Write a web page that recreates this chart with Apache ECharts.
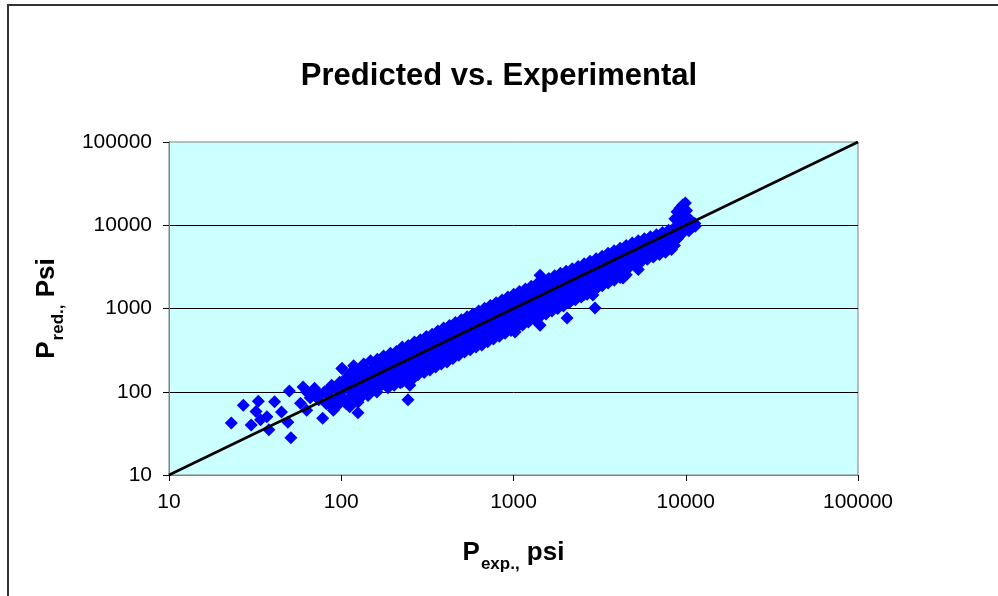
<!DOCTYPE html>
<html>
<head>
<meta charset="utf-8">
<script src="https://cdn.jsdelivr.net/npm/echarts/dist/echarts.min.js"></script>
<style>
  html, body { margin: 0; padding: 0; background: #fff; }
  #chart { width: 998px; height: 596px; }
</style>
</head>
<body>
<div id="chart"></div>
<script>
// Measured vs. predicted pressure, psi: [P_exp, P_pred]
const samples = [
  [23,42],[27,69],[30,40],[33,77],[32,58],[34,46],[37,50],[38,35],[41,76],[45,57],
  [49,43],[51,28],[50,102],[58,73],[60,114],[63,99],[72,97],[63,60],[75,91],[78,48],
  [86,111],[89,65],[101,84],[101,190],[105,127],[112,66],[117,105],[123,80],[125,56],
  [66,85],[70,110],[74,80],[80,100],[82,72],[85,90],[88,120],[92,80],[94,105],[96,70],
  [98,130],[90,60],
  [101,190],[108,150],[104,118],[99,96],[107,72],
  [112,165],[110,128],[114,102],[111,84],
  [118,205],[116,138],[120,112],[117,91],
  [124,172],[122,128],[126,98],[125,75],
  [130,150],[128,112],[132,88],[129,178],
  [135,215],[137,158],[134,121],[138,100],
  [142,176],[140,143],[144,108],[143,90],
  [148,236],[150,168],[147,128],[151,104],
  [155,195],[156,152],[153,118],[157,128],
  [162,245],[160,186],[163,138],[165,112],[161,99],
  [170,210],[168,162],[171,126],[172,140],
  [176,268],[178,193],[175,148],[179,122],
  [185,228],[183,172],[186,138],[187,112],
  [193,290],[191,215],[194,162],[195,133],
  [200,248],[199,188],[202,148],[203,120],
  [209,305],[207,222],[211,172],[210,142],
  [218,265],[216,202],[219,156],[220,128],
  [226,345],[224,242],[228,182],[225,131],
  [236,292],[235,218],[237,168],[238,148],
  [245,360],[243,262],[247,193],[246,152],[244,80],
  [250,120],[252,210],
  [256,305],[255,232],[257,178],[258,140],
  [266,395],[265,282],[268,208],[267,165],
  [277,335],[276,252],[278,192],[279,160],
  [288,420],[286,302],[289,228],[290,178],
  [300,365],[298,272],[302,208],[303,170],
  [312,460],[311,332],[314,248],[313,200],
  [324,395],[323,298],[326,228],[327,182],
  [337,490],[335,358],[338,268],[339,210],
  [350,425],[349,322],[352,243],[353,198],
  [364,535],[362,388],[366,288],[365,225],
  [379,465],[377,348],[380,262],[381,215],
  [393,585],[391,424],[395,312],[396,245],
  [409,505],[408,378],[411,282],
  [411,228],
  [425,625],[423,452],[427,338],[426,265],
  [442,545],[441,408],[444,302],[445,250],
  [460,680],[458,492],[462,362],[461,285],
  [479,595],[477,442],[480,332],[481,275],
  [498,735],[496,532],[499,392],[500,305],
  [517,640],[516,482],[519,362],[520,300],
  [538,795],[536,572],[539,422],[540,335],
  [559,690],[557,522],[560,392],[561,320],
  [581,860],[579,622],[582,462],[583,358],
  [604,750],[602,562],[605,422],[606,345],
  [628,930],[626,672],[629,502],[630,390],
  [653,810],[651,602],[654,452],[655,365],
  [679,1010],[677,732],[680,542],[681,420],
  [706,875],[704,652],[707,492],[708,400],
  [734,1085],[732,792],[735,582],[736,455],
  [763,950],[761,712],[764,532],[765,430],
  [793,1175],[791,852],[794,632],[795,495],
  [825,1025],[823,772],[826,572],[827,465],
  [858,1265],[856,922],[859,682],[860,535],
  [892,1110],[890,832],[893,622],[894,505],
  [928,1370],[926,992],[929,742],[930,580],
  [965,1195],[963,902],[966,672],[967,545],
  [1003,1480],[1000,1072],[1005,802],[1006,620],
  [1021,522],
  [1043,1300],[1042,972],[1045,722],[1046,590],
  [1083,1600],[1081,1152],[1085,862],[1086,665],
  [1128,1395],[1126,1042],[1130,782],[1131,635],
  [1173,1720],[1171,1242],[1175,932],[1176,725],
  [1218,1505],[1217,1122],[1220,842],[1221,690],
  [1268,1850],[1266,1342],[1270,1002],[1271,775],
  [1318,1625],[1317,1212],[1320,912],[1321,745],
  [1373,2000],[1371,1452],[1375,1082],[1376,835],
  [1426,631],[1426,2500],
  [1428,1760],[1427,1312],[1430,982],[1431,800],
  [1483,2150],[1481,1552],[1485,1162],[1486,895],
  [1543,1890],[1542,1412],[1545,1052],[1546,860],
  [1603,2300],[1601,1672],[1605,1252],[1606,965],
  [1668,2030],[1667,1522],[1670,1142],[1671,930],
  [1733,2480],[1731,1802],[1735,1342],[1736,1035],
  [1803,2190],[1802,1642],[1805,1232],[1806,1000],
  [1873,2650],[1871,1932],[1875,1442],[1876,1105],
  [1948,2360],[1947,1762],[1950,1322],[1951,1075],
  [2046,769],
  [2023,2800],[2021,2062],[2025,1542],[2026,1185],
  [2103,2520],[2102,1902],[2105,1442],[2106,1175],
  [2193,3000],[2191,2202],[2195,1652],[2196,1285],
  [2283,2720],[2282,2052],[2285,1562],[2286,1270],
  [2373,3200],[2371,2352],[2375,1782],[2376,1385],
  [2473,2920],[2472,2202],[2475,1682],[2476,1370],
  [2573,3450],[2571,2552],[2575,1922],[2576,1485],
  [2673,3170],[2672,2402],[2675,1822],[2676,1480],
  [2783,3700],[2781,2752],[2785,2082],[2786,1605],
  [2893,1452],
  [2903,3420],[2902,2602],[2905,1982],[2906,1610],
  [2972,1014],
  [3020,3950],[3018,2980],[3022,2250],[3024,1730],
  [3140,3700],[3142,2800],[3138,2130],
  [3270,4250],[3268,3200],[3272,2420],[3274,1870],
  [3400,4000],[3402,3020],[3398,2300],
  [3540,4600],[3538,3450],[3542,2620],[3544,2020],
  [3690,4300],[3692,3250],[3688,2480],
  [3840,4950],[3838,3700],[3842,2830],[3844,2180],
  [4000,4650],[4002,3500],[3998,2670],
  [4160,5300],[4158,4000],[4162,3050],[4164,2350],
  [4325,2320],
  [4330,5000],[4332,3780],[4328,2880],
  [4510,5700],[4508,4300],[4512,3300],[4514,2550],
  [4700,5400],[4702,4080],[4698,3120],
  [4890,6100],[4888,4650],[4892,3550],
  [5090,5800],[5092,4400],[5088,3380],
  [5300,6500],[5298,5000],[5302,3850],[5304,2950],
  [5520,6200],[5522,4750],[5518,3650],
  [5750,6900],[5748,5300],[5752,4100],
  [5990,6600],[5992,5050],[5988,3900],
  [6230,7300],[6228,5650],[6232,4350],
  [6490,7000],[6492,5400],[6488,4150],
  [6760,7700],[6758,6000],[6762,4600],
  [7040,7400],[7042,5750],[7038,4450],
  [7330,8200],[7328,6400],[7332,4950],
  [7630,7800],[7632,6100],[7628,4750],
  [7950,8700],[7948,6800],[7952,5300],
  [8270,8300],[8272,6500],[8268,5100],
  [8600,9300],[8602,7200],[8598,5700],[8650,12000],
  [8950,8800],[8952,6900],[8900,14500],
  [9300,9800],[9302,7600],[9250,16000],[9350,12500],
  [9680,10500],[9682,8300],[9700,13500],[9600,17500],
  [10000,11000],[10020,9000],[9950,18500],[10100,15000],
  [10400,10200],[10420,8600],[10450,12000],
  [10800,11200],[10820,9300],
  [11300,10500],[11350,9700]
];

// Perfect-agreement line endpoints (P_pred = P_exp)
const identityLine = [[10, 10], [100000, 100000]];

// Range shared by both log axes
const axisMin = 10;
const axisMax = 100000;

const titleText = 'Predicted vs. Experimental';
const xName = '{a|P}{b|exp.,}{a| psi}';
const yName = '{a|P}{b|red.,}{a| Psi}';

const FONT = '"Liberation Sans", Arial, sans-serif';

const nameRich = {
  a: { fontFamily: FONT, fontSize: 26, fontWeight: 'bold', color: '#000', lineHeight: 32, verticalAlign: 'middle' },
  b: { fontFamily: FONT, fontSize: 17, fontWeight: 'bold', color: '#000', lineHeight: 32, verticalAlign: 'bottom', padding: [0, 0, -4, 1] }
};

const axisCommon = {
  type: 'log',
  logBase: 10,
  min: axisMin,
  max: axisMax,
  axisLine: { show: true, lineStyle: { color: '#808080', width: 1 } },
  axisTick: { show: true, inside: false, length: 6, lineStyle: { color: '#000', width: 1 } },
  minorTick: { show: false },
  axisLabel: {
    fontFamily: FONT, fontSize: 21, color: '#000',
    formatter: v => String(Math.round(v))
  },
  nameLocation: 'middle'
};

const chart = echarts.init(document.getElementById('chart'), null, { renderer: 'canvas' });

chart.setOption({
  animation: false,
  backgroundColor: '#fff',
  title: {
    text: titleText,
    left: 'center',
    top: 56,
    textStyle: { fontFamily: FONT, fontSize: 31, fontWeight: 'bold', color: '#000' }
  },
  graphic: [{
    type: 'rect',
    shape: { x: 8, y: 5, width: 1200, height: 800 },
    style: { fill: null, stroke: '#333', lineWidth: 2 },
    silent: true
  }],
  grid: {
    left: 169, top: 142, right: 140, bottom: 121,
    show: true, backgroundColor: '#CCFFFF', borderColor: '#808080', borderWidth: 1
  },
  xAxis: Object.assign({}, axisCommon, {
    splitLine: { show: false },
    axisLabel: Object.assign({}, axisCommon.axisLabel, { margin: 17 }),
    name: xName,
    nameGap: 62,
    nameTextStyle: { rich: nameRich }
  }),
  yAxis: Object.assign({}, axisCommon, {
    splitLine: { show: true, showMinLine: false, showMaxLine: false, lineStyle: { color: '#000', width: 1 } },
    axisLabel: Object.assign({}, axisCommon.axisLabel, { margin: 17 }),
    name: yName,
    nameGap: 106,
    nameTextStyle: { rich: nameRich }
  }),
  series: [
    {
      type: 'scatter',
      symbol: 'diamond',
      symbolSize: 13,
      itemStyle: { color: '#0000FF', opacity: 1 },
      data: samples,
      z: 2
    },
    {
      type: 'line',
      data: identityLine,
      symbol: 'none',
      lineStyle: { color: '#000', width: 2.5 },
      z: 3
    }
  ]
});
</script>
</body>
</html>
